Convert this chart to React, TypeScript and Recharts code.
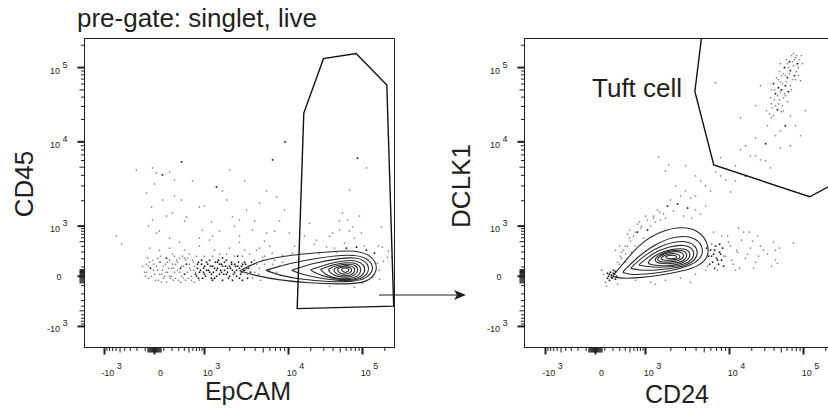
import React from 'react';
import { ScatterChart, Scatter, XAxis, YAxis, ReferenceArea } from 'recharts';

type P = [number, number];

// ---------- Left panel (EpCAM vs CD45), values in fluorescence units ----------
const leftBlackDots: P[] = [
  [705, 0], [770, 155], [841, 63], [918, -21], [1000, 108], [1150, 42], [1150, 180], [1315, 85], [1315, -21],
  [1510, 131], [1510, 21], [1730, 63], [1730, 155], [1985, 0], [1985, 108], [2280, 42], [2280, 131], [2610, 85],
  [2610, -21], [3000, 63], [3000, 155], [1060, 63], [1090, 131], [1210, 21], [1250, 108], [1390, 63], [1430, 155],
  [1590, 42], [1640, 108], [1820, 21], [1880, 85], [2100, 131], [2150, 63], [2410, 0], [2480, 108], [2760, 42],
  [2840, 131], [3170, 85], [737, 85], [880, 131], [960, 42], [404, 21], [445, 131], [-42, 85], [131, 206], [330, 85],
  [348, 5780], [1390, 2910], [6460, 6110], [85500, 6400], [60700, 366], [82900, 385], [113000, 330], [85, 4050],
  [9100, 10000], [2480, 235], [1640, 210], [145000, 280],
  [675, 21], [737, 131], [804, 42], [880, 180], [960, 85], [1030, 0], [1056, 155], [1116, 63], [1179, 108],
  [1210, -21], [1280, 42], [1350, 155], [1390, 0], [1428, 85], [1470, 180], [1553, 63], [1590, 131], [1690, 21],
  [1778, 108], [1828, 180], [1880, 42], [1930, -21], [2040, 85], [2096, 155], [2215, 21], [2340, 108], [2406, 63],
  [2541, 155], [2685, 21], [2760, 108], [2915, 63], [3080, 131], [3250, -21], [3344, 85], [3533, 42], [3630, 155],
  [770, -21], [1000, 21], [1245, -42], [1638, -42], [2154, -42], [2835, -42],
];
const leftGrayDots: P[] = [
  [-108, 42], [-85, 131], [-63, -21], [-21, 180], [0, 21], [21, 108], [42, -42], [63, 155], [85, 63], [108, 0],
  [155, 85], [180, -21], [206, 131], [235, 42], [265, 180], [296, -42], [366, 235], [489, -21], [537, 63], [588, 180],
  [645, 108], [-131, 108], [235, 235], [513, 265], [1000, 235], [1510, 265], [2280, 235], [3440, 265], [5190, 235],
  [3440, 108], [3940, 42], [3940, 180], [4520, 85], [5190, 131], [5950, 63], [6830, 180], [7830, 108],
  [-96, 0], [-52, 155], [-10, 63], [31, 206], [52, 21], [74, -63], [96, 108], [120, 42], [143, 155], [168, 0],
  [193, 85], [220, -42], [250, 131], [280, 63], [312, 206], [348, 0], [385, 108], [425, -42], [467, 206], [513, 85],
  [562, 0], [616, 155], [675, 42], [804, -42], [3250, 21],
  [52, 330], [168, 366], [404, 330], [804, 404], [1315, 330], [1985, 366], [3000, 330], [4520, 366], [-52, 366],
  [312, 489], [1150, 537], [2610, 489], [5950, 404],
  [-85, 42], [-63, 108], [-31, 0], [-10, 131], [10, -42], [31, 63], [52, 155], [74, 21], [96, -21], [120, 131],
  [143, 42], [168, 180], [193, 0], [220, 85], [250, -21], [280, 155], [312, 42], [348, 108], [385, -21], [425, 180],
  [467, 42], [513, 131], [562, -42], [616, 63], [-74, 206], [63, 235], [206, 265], [404, 206], [705, 235],
  [1245, 235], [1828, 265], [2835, 235], [4164, 131], [4398, 21], [4906, 180], [5480, 63], [6460, 131], [7210, 42],
  [8500, 155], [3730, -21], [4645, -42], [131, -63], [330, -63], [645, -63],
  [-210, 4640], [-21, 4900], [21, 4270], [168, 4400], [235, 3530], [-85, 2470], [-31, 1680], [-21, 1180], [21, 737],
  [85, 2040], [206, 1430], [348, 2040], [445, 1280], [804, 1680], [918, 841], [1210, 1120], [1830, 2040],
  [1985, 4640], [2150, 1280], [2610, 1180], [3170, 1550], [3730, 841], [4520, 1880], [5480, 737], [7210, 2210],
  [8980, 1550], [10300, 737], [-588, 645], [-467, 445],
  [52, 804], [131, 1315], [235, 2280], [404, 1147], [588, 3437], [1000, 1730], [1245, 645], [1638, 2612],
  [2277, 1000], [2996, 3437], [3942, 1147], [5480, 2612], [6825, 804], [-63, 1000], [0, 3166], [168, 588],
  [804, 588], [1509, 804], [2612, 645], [5187, 513], [7829, 1147],
  [113000, 4900], [66600, 2680], [53500, 1430], [62600, 1180], [73200, 960], [48800, 841], [96800, 737],
  [39300, 737], [181000, 960], [186000, 385], [217000, 220], [19200, 1080], [23900, 537], [32600, 385],
  [14100, 366], [159000, 143], [169000, 63], [136000, -10], [100000, -74], [8500, 250], [6400, 280],
  [4900, 220], [4160, 330], [11300, 280], [26200, 280], [44500, 296], [250000, 220], [35800, -108], [77900, -120],
  [12050, 404], [16450, 645], [22450, 445], [35800, 645], [57000, 467], [77900, 588], [106000, 404],
  [124000, 235], [66600, 804], [48800, 1147], [91000, 1315], [41800, 366], [164000, 404], [192000, 168],
  [170000, -31], [224000, 312],
];
const leftContour1: P[] = [[2600, 58], [2600, 58], [4800, 190], [12100, 260], [30700, 296], [71000, 330], [117000, 280], [152000, 160], [157000, 63], [134000, -24], [97000, -74], [49000, -85], [19200, -72], [7800, -42], [3900, 10]];
const leftContour2: P[] = [[5330, 63], [5330, 63], [10300, 143], [26200, 215], [66600, 265], [110000, 225], [138000, 131], [138000, 52], [113000, -24], [77900, -56], [35800, -60], [14100, -31], [7830, 10]];
const leftContour3: P[] = [[11000, 63], [11000, 63], [22450, 149], [48800, 206], [80300, 220], [110000, 172], [124000, 96], [117000, 21], [91000, -40], [48800, -50], [24600, -16], [15000, 21]];
const leftContour4: P[] = [[19800, 69], [19800, 69], [33600, 137], [57000, 178], [85500, 178], [106000, 120], [110000, 52], [91000, -24], [57000, -44], [32600, -10], [23200, 31]];
const leftContour5: P[] = [[27000, 74], [27000, 74], [40500, 131], [62600, 155], [85500, 143], [96800, 85], [93800, 21], [75500, -26], [48800, -31], [32600, 5]];
const leftContour6: P[] = [[33600, 80], [45900, 120], [64600, 137], [82900, 120], [88200, 63], [80300, 10], [62600, -16], [43100, 0], [35800, 42]];
const leftContour7: P[] = [[39300, 80], [50300, 108], [66600, 120], [77900, 96], [80300, 52], [71000, 10], [55300, 0], [43100, 26]];
const leftContour8: P[] = [[44500, 80], [55300, 102], [66600, 102], [73200, 74], [68700, 31], [55300, 16], [47300, 42]];
const leftContour9: P[] = [[50300, 80], [58800, 91], [66600, 80], [64600, 47], [55300, 37]];
const leftGate: P[] = [[13100, -450], [16100, 24400], [29700, 132000], [82000, 155000], [213000, 58400], [264000, -400]];

// ---------- Right panel (CD24 vs DCLK1) ----------
const rightBlackDots: P[] = [
  [143, 0], [168, 42], [193, -21], [220, 21], [155, -42], [206, 63], [250, 0], [180, 10], [131, 31], [235, -31],
  [155, 21], [180, -10], [206, 31], [131, -21], [235, 52],
  [5630, 235], [5950, 330], [6285, 155], [6460, 265], [6825, 404], [7014, 206], [7410, 131], [7616, 296],
  [8046, 180], [8270, 366], [6640, 85], [5790, 131], [6114, 235], [6640, 330], [7210, 180], [7829, 265],
  [8500, 108], [5330, 366], [7616, 445],
  [1828, 1730], [2406, 1828], [3166, 1638], [705, 770], [1056, 841],
  [44500, 27000], [41800, 44500], [57000, 57000], [60700, 73200], [66600, 91000], [64600, 120000], [82900, 113000],
  [45900, 53600], [62600, 47300], [75500, 77900], [55300, 100000], [39300, 60700], [50300, 50300],
  [30700, 9485], [16450, 3942], [57000, 16450],
];
const rightGrayDots: P[] = [
  [85, 21], [108, -63], [63, 63], [265, -85], [296, 131], [330, 206], [120, -108], [404, 265],
  [312, 235], [366, 330], [445, 404], [513, 513], [588, 645], [804, 918], [404, 155], [537, 296], [645, 404],
  [918, 588], [1147, 1000], [1315, 1116], [1509, 1179], [1730, 1245], [489, 841], [770, 1116],
  [265, 155], [330, 296], [404, 404], [489, 588], [645, 770], [841, 1000], [1056, 1179], [1245, 1245],
  [296, 404], [445, 705], [705, 1056], [1000, 1315], [1470, 1470], [235, 330],
  [1245, 1315], [1390, 1553], [1638, 1390], [2154, 1509], [2835, 1315], [3533, 1245], [3942, 1553], [1985, 2040],
  [2612, 2277], [3437, 2154], [4522, 1390], [5187, 1730],
  [8980, 235], [10300, 404], [11300, 131], [12830, 296], [14520, 537], [16450, 206], [19220, 366], [22450, 155],
  [26200, 404], [32600, 265], [41800, 180], [47300, 366], [9485, 645], [15460, 770], [23900, 645], [12050, 63],
  [21100, 85],
  [5480, 108], [6114, 445], [7210, 63], [8500, 235], [9730, 489], [10640, 180], [12430, 330], [13650, 85],
  [17500, 265], [20500, 513], [24640, 235], [28800, 330], [36900, 108], [39300, 489], [18620, 770], [13230, 918],
  [8046, 645], [6460, 770],
  [645, -42], [1147, -63], [1730, -42], [2612, -21], [3942, 21], [5187, 63], [1315, -85], [3437, -63],
  [5187, 2996], [6825, 4398], [8980, 3533], [12050, 5187], [19220, 6825], [26200, 6114], [35800, 4906],
  [41800, 12050], [48800, 8500], [22450, 11300], [14080, 8046], [7829, 6460], [66600, 22450], [77900, 16450],
  [10300, 2541], [3942, 3942], [2996, 5187],
  [2996, 2612], [3942, 2277], [4522, 3437], [5950, 2612], [7829, 3942], [12050, 3437], [16450, 8980],
  [22450, 6825], [30700, 5950], [48800, 14080], [66600, 8980], [91000, 12050], [106000, 26200], [53600, 26200],
  [39300, 22450], [36900, 32600], [47300, 36900], [48800, 64600], [53600, 82900], [73200, 106000], [77900, 136000],
  [68700, 145000], [57000, 41800], [35800, 39300], [51900, 30700], [71000, 68700], [80300, 88200], [43100, 73200],
  [88200, 128000], [31600, 26200], [48800, 113000], [26200, 57000], [22450, 30700], [91000, 66600], [32600, 16450],
  [38100, 28800], [45900, 32600], [53600, 39300], [40500, 50300], [58800, 64600], [50300, 77900], [62600, 100000],
  [71000, 120000], [80300, 145000], [47300, 88200], [60700, 113000], [66600, 57000], [44500, 41800], [36900, 50300],
  [75500, 128000], [85500, 100000], [51900, 60700], [41800, 30700], [34700, 23900], [57000, 77900],
  [50300, 25400], [60700, 34700], [40500, 36900], [68700, 50300], [77900, 68700], [45900, 68700], [85500, 77900],
  [96800, 113000], [58800, 128000], [73200, 155000], [93800, 145000], [36900, 21100], [55300, 44500],
  [64600, 82900], [48800, 47300],
  [1428, 6640], [1880, 5330], [6825, 62600], [14080, 21100], [1730, 4522], [2277, 2996], [73200, 467],
  [44500, 143], [41800, 330],
];
const rightContour1: P[] = [[193, 0], [193, 0], [385, 160], [804, 470], [1509, 800], [2760, 1000], [4522, 800], [5700, 420], [5550, 193], [3830, 80], [1880, 25], [804, -18], [312, -24]];
const rightContour2: P[] = [[348, 42], [348, 42], [705, 225], [1390, 490], [2612, 680], [4170, 580], [4950, 340], [4522, 180], [2840, 85], [1390, 31], [513, 10]];
const rightContour3: P[] = [[513, 85], [513, 85], [1000, 265], [1640, 440], [2760, 540], [3940, 440], [4280, 265], [3630, 143], [2340, 85], [1315, 63], [737, 63]];
const rightContour4: P[] = [[737, 120], [737, 120], [1210, 280], [1880, 395], [2920, 440], [3730, 355], [3830, 220], [3080, 131], [1985, 96], [1210, 96]];
const rightContour5: P[] = [[1000, 143], [1390, 280], [2040, 348], [2920, 366], [3440, 296], [3340, 193], [2612, 131], [1780, 108], [1210, 120]];
const rightContour6: P[] = [[1180, 168], [1550, 280], [2150, 330], [2840, 330], [3170, 265], [3000, 180], [2340, 143], [1640, 131]];
const rightContour7: P[] = [[1315, 193], [1680, 280], [2210, 312], [2760, 296], [2920, 235], [2612, 180], [1985, 155], [1509, 155]];
const rightContour8: P[] = [[1470, 206], [1780, 265], [2280, 280], [2612, 250], [2540, 193], [1985, 180], [1590, 180]];
const rightContour9: P[] = [[1640, 220], [1930, 250], [2340, 250], [2400, 206], [1985, 193]];
const tuftGate: P[] = [[4770, 326000], [3870, 47800], [6500, 5320], [121000, 2230], [270000, 3250], [270000, 326000]];

// ---------- Axis ticks ----------
const majorTickValues = [-1000, 0, 1000, 10000, 100000];
const majorTickBase = ['-10', '0', '10', '10', '10'];
const majorTickExp = ['3', '', '3', '4', '5'];
const minorTickValues = [-900, -800, -700, -600, -500, -400, -300, -200, -100, 100, 200, 300, 400, 500, 600, 700, 800, 900,
  2000, 3000, 4000, 5000, 6000, 7000, 8000, 9000, 20000, 30000, 40000, 50000, 60000, 70000, 80000, 90000, 200000];
const tinyTickValues = [-70, -60, -50, -40, -30, -20, -10, 10, 20, 30, 40, 50, 60, 70];

// biexponential-like display transform (matches the axis decades of the figure)
function T(v: number): number {
  if (v <= 1000) return 23.87 * Math.asinh(v / 250);
  if (v <= 10000) return 50 + 84 * Math.log10(v / 1000);
  return 134 + 74 * Math.log10(v / 10000);
}
const toXY = (arr: P[]) => arr.map(([x, y]) => ({ x: T(x), y: T(y) }));

type TickDef = { pos: number; kind: 'major' | 'minor' | 'tiny'; base?: string; exp?: string; v: number };
const tickDefs: TickDef[] = [
  ...majorTickValues.map((v, i) => ({ pos: T(v), kind: 'major' as const, base: majorTickBase[i], exp: majorTickExp[i], v })),
  ...minorTickValues.map((v) => ({ pos: T(v), kind: 'minor' as const, v })),
  ...tinyTickValues.map((v) => ({ pos: T(v), kind: 'tiny' as const, v })),
];
const tickPositions = tickDefs.map((t) => t.pos);
function findTick(pos: number): TickDef {
  let best = tickDefs[0];
  let bd = Infinity;
  for (const t of tickDefs) {
    const d = Math.abs(t.pos - pos);
    if (d < bd) { bd = d; best = t; }
  }
  return best;
}
function tickLen(t: TickDef): [number, number] {
  if (t.kind === 'major') return [7, 2];
  if (t.kind === 'tiny') return [5, 1];
  const m = Math.abs(t.v);
  if (m === 500 || m === 5000 || m === 50000) return [5, 1];
  return [3.5, 1];
}

const FONT = '"Liberation Sans", Arial, Helvetica, sans-serif';
const INK = '#231f20';

const XTick = (props: any) => {
  const { x, y, payload } = props;
  const t = findTick(payload.value);
  const [len, w] = tickLen(t);
  return (
    <g>
      <line x1={x} x2={x} y1={y} y2={y + len} stroke={INK} strokeWidth={w} />
      {t.kind === 'major' && (t.exp ? (
        <text x={x + 7} y={y + 28} textAnchor="middle" fontSize={9} fontFamily={FONT} fill={INK}>
          {t.base}<tspan dx={2.5} dy={-6.5}>{t.exp}</tspan>
        </text>
      ) : (
        <text x={x + 6} y={y + 28} textAnchor="middle" fontSize={9} fontFamily={FONT} fill={INK}>0</text>
      ))}
    </g>
  );
};

const YTick = (props: any) => {
  const { x, y, payload } = props;
  const t = findTick(payload.value);
  const [len, w] = tickLen(t);
  return (
    <g>
      <line x1={x} x2={x - len} y1={y} y2={y} stroke={INK} strokeWidth={w} />
      {t.kind === 'major' && (t.exp ? (
        <text x={x - 17} y={y + 6} textAnchor="end" fontSize={9} fontFamily={FONT} fill={INK}>
          {t.base}<tspan dx={2.5} dy={-6}>{t.exp}</tspan>
        </text>
      ) : (
        <text x={x - 23} y={y + 3.3} textAnchor="end" fontSize={9} fontFamily={FONT} fill={INK}>0</text>
      ))}
    </g>
  );
};

const dotShape = (color: string, s: number) => (p: any) => (
  <rect x={p.cx - s / 2} y={p.cy - s / 2} width={s} height={s} fill={color} />
);
const hiddenShape = () => <g />;

const Y_DOMAIN: [number, number] = [-71, 237];

function Panel(props: { xDomain: [number, number]; gray: P[]; black: P[]; contours: P[][]; gate: P[] }) {
  const { xDomain, gray, black, contours, gate } = props;
  return (
    <ScatterChart width={400} height={415} margin={{ top: 38.5, right: 5.5, bottom: 37.5, left: 44.5 }}>
      <XAxis type="number" dataKey="x" domain={xDomain} allowDataOverflow ticks={tickPositions} interval={0}
        tick={(p: any) => <XTick {...p} />} tickLine={false} tickSize={0} tickMargin={0}
        axisLine={{ stroke: INK }} height={30} />
      <YAxis type="number" dataKey="y" domain={Y_DOMAIN} allowDataOverflow ticks={tickPositions} interval={0}
        tick={(p: any) => <YTick {...p} />} tickLine={false} tickSize={0} tickMargin={0}
        axisLine={{ stroke: INK }} width={40} />
      <ReferenceArea x1={xDomain[0]} x2={xDomain[1]} y1={Y_DOMAIN[0]} y2={Y_DOMAIN[1]} fill="none"
        fillOpacity={0} stroke={INK} strokeWidth={1} ifOverflow="visible" />
      <Scatter data={toXY(gray)} shape={dotShape('#7a7a7a', 1.4)} isAnimationActive={false} />
      <Scatter data={toXY(black)} shape={dotShape('#111', 1.6)} isAnimationActive={false} />
      {contours.map((c, i) => (
        <Scatter key={i} data={toXY(c)} line={{ stroke: '#2a2a2a', strokeWidth: 1.1, fill: 'none' }}
          lineJointType="basisClosed" shape={hiddenShape} isAnimationActive={false} />
      ))}
      <Scatter data={toXY(gate)} line={{ stroke: '#111', strokeWidth: 1.4, fill: 'none' }}
        lineJointType="linearClosed" shape={hiddenShape} isAnimationActive={false} />
    </ScatterChart>
  );
}

export default function App() {
  const txt = { fontFamily: FONT, fill: INK, fontSize: 26 } as const;
  return (
    <div style={{ position: 'absolute', left: 0, top: 0, width: 828, height: 415, overflow: 'hidden', background: '#fff' }}>
      <div style={{ position: 'absolute', left: 0, top: 0 }}>
        <Panel xDomain={[-70, 240]} gray={leftGrayDots} black={leftBlackDots}
          contours={[leftContour1, leftContour2, leftContour3, leftContour4, leftContour5, leftContour6, leftContour7, leftContour8, leftContour9]}
          gate={leftGate} />
      </div>
      <div style={{ position: 'absolute', left: 440, top: 0 }}>
        <Panel xDomain={[-71, 239]} gray={rightGrayDots} black={rightBlackDots}
          contours={[rightContour1, rightContour2, rightContour3, rightContour4, rightContour5, rightContour6, rightContour7, rightContour8, rightContour9]}
          gate={tuftGate} />
      </div>
      <svg width={828} height={415} style={{ position: 'absolute', left: 0, top: 0, pointerEvents: 'none' }}>
        <text x={77} y={27} {...txt}>pre-gate: singlet, live</text>
        <text x={248} y={400} textAnchor="middle" {...txt} fontSize={25}>EpCAM</text>
        <text x={677} y={403} textAnchor="middle" {...txt} fontSize={25}>CD24</text>
        <text transform="translate(32.5,184) rotate(-90)" textAnchor="middle" {...txt}>CD45</text>
        <text transform="translate(470,186) rotate(-90)" textAnchor="middle" {...txt}>DCLK1</text>
        <text x={592} y={97} {...txt}>Tuft cell</text>
        <line x1={379} y1={295} x2={458} y2={295} stroke={INK} strokeWidth={1.2} />
        <polygon points="466,295 454,290 457,295 454,300" fill={INK} />
      </svg>
    </div>
  );
}
